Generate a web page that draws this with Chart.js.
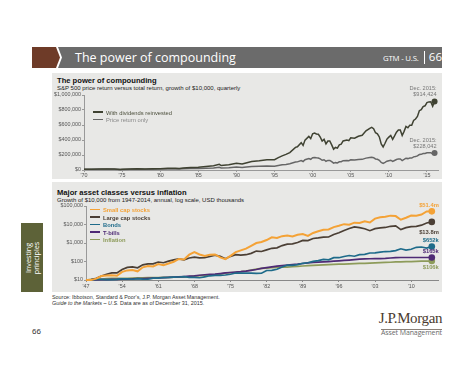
<!DOCTYPE html>
<html>
<head>
<meta charset="utf-8">
<script src="https://cdn.jsdelivr.net/npm/chart.js@4.4.1/dist/chart.umd.min.js"></script>
<style>
    body { margin: 0; width: 474px; height: 366px; background: #fff; position: relative; overflow: hidden; font-family: "Liberation Sans", Arial, sans-serif; }
    .abs { position: absolute; white-space: nowrap; }
    .panel { position: absolute; background: #e8e8e6; }
    .ptitle { font-weight: bold; font-size: 7.6px; color: #111; }
    .psub { font-size: 6px; color: #222; }
    .leg { position: absolute; font-size: 5.8px; line-height: 6px; }
    .leg span.sw { display: inline-block; width: 10px; height: 1.6px; vertical-align: middle; margin-right: 3px; position: relative; top: -1px; }
</style>
</head>
<body>
<svg class="abs" style="left:0;top:0" width="474" height="80">
    <polygon points="32,47 56,47 60,57.5 56,68 32,68" fill="#6e3b28"/>
    <polygon points="58,47 442,47 442,68 58,68 62,57.5" fill="#6b6b6b"/>
    <line x1="424.5" y1="51" x2="424.5" y2="64" stroke="#fff" stroke-width="1"/>
</svg>
<div class="abs" style="left:75px;top:49px;font-family:'Open Sans';font-size:12.5px;color:#fff;">The power of compounding</div>
<div class="abs" style="left:383px;top:53px;font-family:'Open Sans';font-size:7.8px;letter-spacing:-0.2px;color:#fff;">GTM - U.S.</div>
<div class="abs" style="right:32px;top:49px;font-family:'Open Sans';font-size:11.5px;color:#fff;">66</div>

<div class="panel" style="left:52px;top:73px;width:390px;height:106px;"></div>
<div class="panel" style="left:52px;top:182px;width:390px;height:110px;"></div>

<div class="abs ptitle" style="left:57px;top:76px;">The power of compounding</div>
<div class="abs psub" style="left:57px;top:84.5px;">S&amp;P 500 price return versus total return, growth of $10,000, quarterly</div>
<div class="abs ptitle" style="left:57px;top:188px;">Major asset classes versus inflation</div>
<div class="abs psub" style="left:57px;top:196.5px;">Growth of $10,000 from 1947-2014, annual, log scale, USD thousands</div>

<canvas id="chartTop" class="abs" style="left:52px;top:84px;" width="390" height="95"></canvas>
<canvas id="chartBottom" class="abs" style="left:52px;top:199px;" width="390" height="92"></canvas>

<div id="legTop"></div>
<div id="legBottom"></div>

<div class="abs" style="left:21px;top:223px;width:22px;height:69px;background:#5d6238;"></div>
<div class="abs" style="left:32px;top:257.5px;width:69px;transform:translate(-50%,-50%) rotate(-90deg);text-align:center;font-family:'Open Sans';font-size:7.2px;line-height:8px;color:#fff;">Investing<br>principles</div>

<div class="abs" style="left:52px;top:294px;font-size:5.4px;color:#333;">Source: Ibbotson, Standard &amp; Poor's, J.P. Morgan Asset Management.</div>
<div class="abs" style="left:52px;top:300px;font-size:5.4px;color:#333;"><i>Guide to the Markets – U.S.</i> Data are as of December 31, 2015.</div>
<div class="abs" style="left:32px;top:327px;font-size:8px;color:#333;">66</div>
<div class="abs" style="right:32px;top:310px;font-family:'Liberation Serif';font-size:15px;letter-spacing:-0.4px;color:#4a3c30;">J.P.Morgan</div>
<div class="abs" style="left:381px;top:328.5px;width:61px;border-top:0.6px solid #8a8078;"></div>
<div class="abs" style="right:32px;top:328px;font-family:'Open Sans';font-size:7px;letter-spacing:-0.1px;color:#6a6a6a;">Asset Management</div>

<script>
// ---- top chart data: S&P 500, growth of $10,000 ----
const topYears = [
    1970, 1971, 1972, 1973, 1974, 1974.75, 1975, 1976, 1977, 1978, 1979, 1980, 1981, 1982, 1982.5,
    1983, 1984, 1985, 1986, 1987, 1987.75, 1988, 1989, 1990, 1990.75, 1991, 1992, 1993, 1994, 1995, 1995.5, 1996, 1996.5,
    1997, 1997.75, 1998, 1998.5, 1998.75, 1999, 1999.5, 1999.75, 2000, 2000.25, 2000.5, 2000.75, 2001, 2001.25, 2001.5, 2001.75, 2002, 2002.25, 2002.5, 2002.75,
    2003, 2003.25, 2003.5, 2003.75, 2004, 2004.5, 2004.75, 2005, 2005.5, 2006, 2006.5, 2007, 2007.5, 2007.75, 2008, 2008.25, 2008.5, 2008.75,
    2009, 2009.25, 2009.5, 2009.75, 2010, 2010.25, 2010.5, 2010.75, 2011, 2011.25, 2011.5, 2011.75, 2012, 2012.25, 2012.5, 2012.75, 2013, 2013.25, 2013.5, 2013.75, 2014, 2014.25, 2014.5, 2014.75, 2015, 2015.25, 2015.5, 2015.75, 2016
];
const totalReturn = [
    10000, 10550, 12060, 14350, 12240, 8210, 9000, 12350, 15310, 14210, 15150, 17970, 23800, 22630, 20850,
    27510, 33720, 35830, 47200, 56010, 75900, 58950, 68740, 90530, 80700, 87720, 114450, 123170, 135590, 137380, 165400, 189000, 207800,
    232400, 301400, 309930, 365000, 328000, 398500, 447700, 419600, 482350, 493000, 480400, 476000, 438450, 386500, 409000, 349000, 386320, 387500, 335000, 278000,
    300950, 291000, 336000, 344000, 387260, 399000, 391000, 429390, 424000, 450470, 462000, 521600, 556000, 569000, 550240, 497000, 483000, 441000,
    346650, 308000, 357000, 412000, 438370, 461000, 409000, 455000, 504390, 533000, 533000, 460500, 515030, 580000, 563000, 598000, 597440, 661000, 680000, 715000, 790950, 804000, 846000, 856000, 899230, 908000, 910000, 850000, 914424
];
const priceReturn = [
    10000, 10280, 11390, 13170, 10880, 7090, 7650, 10060, 11990, 10610, 10720, 12040, 15150, 13670, 12230,
    15690, 18400, 18660, 23570, 27020, 35910, 27570, 30990, 39430, 34150, 36840, 46540, 48610, 52040, 51240, 60780, 68720, 74820,
    82640, 105690, 108270, 126500, 113500, 137150, 153150, 143110, 163920, 167200, 162290, 160270, 147300, 129460, 136610, 116140, 128090, 128010, 110430, 90960,
    98160, 94630, 108730, 111120, 124060, 127280, 124350, 135210, 132920, 139270, 141720, 158240, 167730, 170340, 163830, 147570, 142810, 130130,
    100780, 89020, 102570, 117940, 124410, 130470, 115000, 127320, 140320, 147920, 147340, 126230, 140310, 157140, 151980, 160740, 159120, 175080, 179210, 187610, 206220, 208900, 218700, 220050, 229710, 230710, 230180, 214220, 228042
];
const topSeriesNames = ['With dividends reinvested', 'Price return only'];
const topXTicks = [1970, 1975, 1980, 1985, 1990, 1995, 2000, 2005, 2010, 2015];
const topXLabels = ["'70", "'75", "'80", "'85", "'90", "'95", "'00", "'05", "'10", "'15"];
const topYTicks = [0, 200000, 400000, 600000, 800000, 1000000];
const topYLabels = ['$0', '$200,000', '$400,000', '$600,000', '$800,000', '$1,000,000'];
const topEndLabels = [['Dec. 2015:', '$914,424'], ['Dec. 2015:', '$228,042']];

// ---- bottom chart data: growth of $10,000 (USD thousands) ----
const bottomYears = [
    1947, 1948, 1949, 1950, 1951, 1952, 1953, 1954, 1955, 1956,
    1957, 1958, 1959, 1960, 1961, 1962, 1963, 1964, 1965, 1966,
    1967, 1968, 1969, 1970, 1971, 1972, 1973, 1974, 1975, 1976,
    1977, 1978, 1979, 1980, 1981, 1982, 1983, 1984, 1985, 1986,
    1987, 1988, 1989, 1990, 1991, 1992, 1993, 1994, 1995, 1996,
    1997, 1998, 1999, 2000, 2001, 2002, 2003, 2004, 2005, 2006,
    2007, 2008, 2009, 2010, 2011, 2012, 2013, 2014
];
const smallCap = [
    10, 9.88, 11.8, 16.4, 17.7, 18.2, 17.1, 27.4, 33.0, 34.4,
    29.4, 48.4, 56.4, 54.5, 72.0, 63.5, 78.4, 96.9, 137, 128,
    234, 319, 239, 197, 230, 240, 166, 133, 203, 319,
    400, 494, 709, 991, 1129, 1445, 2018, 1884, 2348, 2509,
    2276, 2796, 3081, 2417, 3496, 4312, 5216, 5379, 7232, 8507,
    10444, 9680, 12564, 12113, 14871, 12896, 20724, 24535, 25931, 30124,
    28552, 18068, 23143, 30377, 29387, 34747, 50408, 51400
];
const largeCap = [
    10, 10.6, 12.5, 16.5, 20.5, 24.3, 24.0, 36.7, 48.2, 51.4,
    45.9, 65.8, 73.6, 74.0, 93.9, 85.7, 105, 123, 138, 124,
    154, 171, 156, 162, 186, 221, 189, 139, 190, 236,
    219, 233, 276, 366, 348, 422, 517, 549, 726, 860,
    905, 1057, 1390, 1346, 1758, 1892, 2081, 2109, 2898, 3566,
    4756, 6116, 7402, 6728, 5929, 4619, 5943, 6590, 6913, 8005,
    8444, 5320, 6727, 7741, 7904, 9169, 12139, 13800
];
const bonds = [
    10, 10.1, 10.7, 10.8, 10.4, 10.5, 10.9, 11.7, 11.6, 11.0,
    11.8, 11.2, 11.0, 12.5, 12.7, 13.6, 13.8, 14.3, 14.5, 15.1,
    13.8, 13.8, 13.2, 14.9, 16.9, 17.9, 17.8, 18.6, 20.4, 23.9,
    23.8, 23.6, 23.4, 22.6, 23.1, 32.6, 33.0, 38.3, 50.3, 62.9,
    61.4, 67.6, 80.1, 85.3, 102, 111, 131, 122, 161, 160,
    186, 211, 193, 235, 245, 289, 294, 320, 346, 351,
    387, 488, 416, 460, 585, 606, 530, 652
];
const tBills = [
    10, 10.1, 10.2, 10.4, 10.5, 10.7, 10.9, 11.0, 11.2, 11.4,
    11.8, 12.0, 12.3, 12.7, 12.9, 13.3, 13.7, 14.2, 14.7, 15.4,
    16.1, 16.9, 18.0, 19.2, 20.1, 20.8, 22.3, 24.1, 25.4, 26.7,
    28.1, 30.1, 33.3, 37.0, 42.4, 46.9, 51.0, 56.1, 60.4, 64.1,
    67.6, 71.9, 77.9, 84.0, 88.7, 91.8, 94.5, 98.2, 104, 109,
    115, 120, 126, 133, 139, 141, 142, 144, 148, 155,
    163, 165, 165, 165, 165, 165, 165, 165
];
const inflation = [
    10, 10.9, 10.7, 11.3, 12.0, 12.1, 12.2, 12.1, 12.1, 12.5,
    12.9, 13.1, 13.3, 13.5, 13.6, 13.8, 14.0, 14.1, 14.4, 14.9,
    15.3, 16.1, 17.1, 18.0, 18.6, 19.2, 20.9, 23.5, 25.1, 26.3,
    28.1, 30.6, 34.7, 39.0, 42.5, 44.2, 45.8, 47.6, 49.5, 50.0,
    52.2, 54.5, 57.1, 60.5, 62.4, 64.2, 66.0, 67.7, 69.5, 71.8,
    73.0, 74.2, 76.2, 78.7, 80.0, 81.9, 83.4, 86.1, 89.0, 91.3,
    95.0, 95.1, 97.7, 99.2, 102, 104, 105, 106
];
const bottomSeriesNames = ['Small cap stocks', 'Large cap stocks', 'Bonds', 'T-bills', 'Inflation'];
const bottomXTicks = [1947, 1954, 1961, 1968, 1975, 1982, 1989, 1996, 2003, 2010];
const bottomXLabels = ["'47", "'54", "'61", "'68", "'75", "'82", "'89", "'96", "'03", "'10"];
const bottomYTicks = [10, 100, 1000, 10000, 100000];
const bottomYLabels = ['$10', '$100', '$1,000', '$10,000', '$100,000'];
const bottomEndLabels = ['$51.4m', '$13.8m', '$652k', '$165k', '$106k'];

// colours
const topColors = ['#3f4232', '#666666'];
const topTextColors = ['#4a4d3a', '#8a8a8a'];
const bottomColors = ['#f4a236', '#4b3f35', '#1e6b8a', '#4e2a75', '#8d9b5a'];

Chart.defaults.font.family = '"Liberation Sans", Arial, sans-serif';
Chart.defaults.color = '#555';

function xy(xs, ys) {
    return ys.map((v, i) => ({ x: xs[i], y: v }));
}

// draws the value labels next to the last point of each dataset
const endLabelPlugin = {
    id: 'endLabels',
    afterDatasetsDraw(chart, args, opts) {
        const ctx = chart.ctx;
        ctx.save();
        ctx.font = opts.font;
        ctx.textAlign = 'right';
        ctx.textBaseline = 'middle';
        opts.items.forEach((item, i) => {
            const meta = chart.getDatasetMeta(i);
            const pt = meta.data[meta.data.length - 1];
            ctx.fillStyle = item.color;
            item.lines.forEach((line, j) => {
                ctx.fillText(line, pt.x + opts.dx, pt.y + item.dy + j * opts.lineHeight);
            });
        });
        ctx.restore();
    }
};

const tickFont = { size: 5.4 };

function lastPointRadius(r) {
    return ctx => (ctx.dataIndex === ctx.dataset.data.length - 1 ? r : 0);
}

// top chart
new Chart(document.getElementById('chartTop'), {
    type: 'line',
    data: {
        datasets: [totalReturn, priceReturn].map((vals, i) => ({
            label: topSeriesNames[i],
            data: xy(topYears, vals),
            borderColor: topColors[i],
            backgroundColor: topColors[i],
            borderWidth: 1.5,
            pointRadius: lastPointRadius(3),
            pointBorderWidth: 0,
            tension: 0,
            clip: false
        }))
    },
    options: {
        responsive: false,
        animation: false,
        layout: { padding: { top: 11, right: 4, left: 0, bottom: 0 } },
        plugins: {
            legend: { display: false },
            tooltip: { enabled: false },
            endLabels: {
                font: '5.6px "Liberation Sans", Arial, sans-serif',
                dx: 2,
                lineHeight: 5.8,
                items: topEndLabels.map((lines, i) => ({ lines: lines, color: '#777', dy: i === 0 ? -13 : -12 }))
            }
        },
        scales: {
            x: {
                type: 'linear',
                min: 1970,
                max: 2016.45,
                afterBuildTicks: s => { s.ticks = topXTicks.map(v => ({ value: v })); },
                afterFit: s => { s.height = 9; },
                ticks: { font: tickFont, padding: 0, maxRotation: 0, callback: (v, i) => topXLabels[i] },
                grid: { drawOnChartArea: false, tickLength: 2, color: '#999' },
                border: { color: '#999', width: 1 }
            },
            y: {
                type: 'linear',
                min: 0,
                max: 1000000,
                afterBuildTicks: s => { s.ticks = topYTicks.map(v => ({ value: v })); },
                afterFit: s => { s.width = 32; },
                ticks: { font: tickFont, padding: 1, callback: (v, i) => topYLabels[i] },
                grid: { drawOnChartArea: false, tickLength: 2, color: '#999' },
                border: { color: '#999', width: 1 }
            }
        }
    },
    plugins: [endLabelPlugin]
});

// bottom chart
new Chart(document.getElementById('chartBottom'), {
    type: 'line',
    data: {
        datasets: [smallCap, largeCap, bonds, tBills, inflation].map((vals, i) => ({
            label: bottomSeriesNames[i],
            data: xy(bottomYears, vals),
            borderColor: bottomColors[i],
            backgroundColor: bottomColors[i],
            borderWidth: i === 0 ? 2 : 1.7,
            pointRadius: lastPointRadius(3.3),
            pointBorderWidth: 0,
            tension: 0,
            clip: false
        }))
    },
    options: {
        responsive: false,
        animation: false,
        layout: { padding: { top: 7, right: 2, left: 0, bottom: 0 } },
        plugins: {
            legend: { display: false },
            tooltip: { enabled: false },
            endLabels: {
                font: 'bold 5.8px "Liberation Sans", Arial, sans-serif',
                dx: 7,
                lineHeight: 6,
                items: bottomEndLabels.map((t, i) => ({ lines: [t], color: bottomColors[i], dy: [-5.5, 10, -6, -6, 6.5][i] }))
            }
        },
        scales: {
            x: {
                type: 'linear',
                min: 1947,
                max: 2015.2,
                afterBuildTicks: s => { s.ticks = bottomXTicks.map(v => ({ value: v })); },
                afterFit: s => { s.height = 11; },
                ticks: { font: tickFont, padding: 1, maxRotation: 0, callback: (v, i) => bottomXLabels[i] },
                grid: { drawOnChartArea: false, tickLength: 2, color: '#888' },
                border: { color: '#888', width: 1 }
            },
            y: {
                type: 'logarithmic',
                min: 10,
                max: 100000,
                afterBuildTicks: s => { s.ticks = bottomYTicks.map(v => ({ value: v })); },
                afterFit: s => { s.width = 34; },
                ticks: { font: tickFont, padding: 1, callback: (v, i) => bottomYLabels[i] },
                grid: { drawOnChartArea: false, tickLength: 2, color: '#999' },
                border: { color: '#999', width: 1 }
            }
        }
    },
    plugins: [endLabelPlugin]
});

// legends as html
function buildLegend(el, names, colors, textColors, left, top, step) {
    names.forEach((name, i) => {
        const d = document.createElement('div');
        d.className = 'leg';
        d.style.left = left + 'px';
        d.style.top = (top + i * step) + 'px';
        d.style.color = textColors[i];
        d.innerHTML = '<span class="sw" style="background:' + colors[i] + '"></span>' + name;
        el.appendChild(d);
    });
}
buildLegend(document.getElementById('legTop'), topSeriesNames, topColors, topTextColors, 93, 109.5, 7.5);
buildLegend(document.getElementById('legBottom'), bottomSeriesNames, bottomColors, bottomColors, 90, 207, 7.5);
document.querySelectorAll('#legBottom .leg').forEach(d => { d.style.fontWeight = 'bold'; });
</script>
</body>
</html>
